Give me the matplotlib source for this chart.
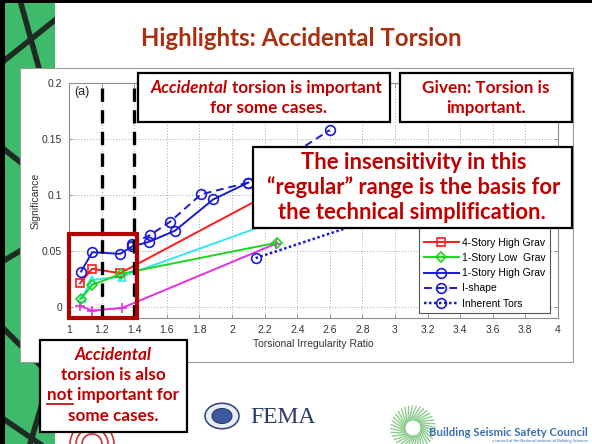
import matplotlib
matplotlib.use("Agg")
import matplotlib.pyplot as plt
import numpy as np
from matplotlib.patches import Rectangle, Circle, Arc
from matplotlib.lines import Line2D

# ---------------- data ----------------
x_4s_high = [1.067, 1.143, 1.313, 2.28]
y_4s_high = [0.021, 0.034, 0.030, 0.105]

x_cyan = [1.078, 1.139, 1.323, 2.28]
y_cyan = [0.0078, 0.024, 0.027, 0.077]

x_1s_low = [1.074, 1.143, 1.319, 2.278]
y_1s_low = [0.007, 0.0196, 0.0295, 0.0574]

x_magenta = [1.067, 1.139, 1.323, 2.27]
y_magenta = [0.0009, -0.0033, -0.0012, 0.0565]

x_1s_high = [1.074, 1.143, 1.313, 1.388, 1.49, 1.65, 1.885, 2.10]
y_1s_high = [0.0315, 0.0488, 0.0473, 0.054, 0.058, 0.068, 0.096, 0.111]

x_ishape = [1.385, 1.497, 1.62, 1.81, 2.10, 2.60]
y_ishape = [0.0565, 0.064, 0.076, 0.1005, 0.111, 0.158]

x_inherent = [2.145, 2.9]
y_inherent = [0.0435, 0.080]

vlines_x = [1.2, 1.4]

xticks = [1, 1.2, 1.4, 1.6, 1.8, 2, 2.2, 2.4, 2.6, 2.8, 3, 3.2, 3.4, 3.6, 3.8, 4]
xtick_labels = ["1", "1.2", "1.4", "1.6", "1.8", "2", "2.2", "2.4", "2.6", "2.8",
                "3", "3.2", "3.4", "3.6", "3.8", "4"]
yticks = [0, 0.05, 0.1, 0.15, 0.2]
ytick_labels = ["0", "0.05", "0.1", "0.15", "0.2"]

title = "Highlights: Accidental Torsion"

# ---------------- figure ----------------
W, H = 592, 444
fig = plt.figure(figsize=(W / 100, H / 100), dpi=100)
fig.patch.set_facecolor("white")


def fx(x):
    return x / W


def fy(y):
    return 1 - y / H


def rect(x0, y0, x1, y1, **kw):
    r = Rectangle((fx(x0), fy(y1)), fx(x1) - fx(x0), fy(y0) - fy(y1),
                  transform=fig.transFigure, **kw)
    fig.patches.append(r)
    return r


# left decorative strip
strip = rect(5, 0, 55, 444, facecolor="#3DBA6A", edgecolor="none", zorder=0.1)
for (xa, ya, xb, yb) in [(5, 60, 55, 20), (5, 150, 55, 190), (20, 0, 45, 90),
                         (5, 260, 55, 230), (5, 330, 55, 380), (30, 444, 55, 360),
                         (5, 420, 40, 444), (40, 230, 55, 320)]:
    ln = Line2D([fx(xa), fx(xb)], [fy(ya), fy(yb)], transform=fig.transFigure,
                color="#1E2A22", lw=4, zorder=0.2)
    ln.set_clip_path(strip)
    fig.lines.append(ln)
rect(0, 0, 5, 444, facecolor="black", edgecolor="none", zorder=0.3)
rect(0, 0, 592, 3, facecolor="black", edgecolor="none", zorder=0.3)

# matlab figure region
rect(20, 68, 573, 362, facecolor="white", edgecolor="#9A9A9A", lw=0.8, zorder=0.5)

# title
fig.text(fx(301), fy(38), title, fontsize=17.3, fontweight="bold", family="Lato",
         color="#A8300F", ha="center", va="center")

# ---------------- axes ----------------
ax = fig.add_axes([fx(69), fy(318), fx(558) - fx(69), fy(83) - fy(318)])
ax.set_zorder(1)
ax.set_xlim(1, 4)
ax.set_ylim(-0.01, 0.2)

lw = 1.4
ms = 6
ax.plot(x_cyan, y_cyan, color="#30E8F0", lw=lw, marker="^", ms=ms,
        mfc="none", mew=1.2, zorder=3)
ax.plot(x_magenta, y_magenta, color="#E62EE6", lw=lw, marker="+", ms=ms + 1,
        mew=1.2, zorder=3)
# two blank legend rows (hidden under the annotation box in the reference)
ax.plot([], [], color="none", label=" ")
ax.plot([], [], color="none", label="  ")
ax.plot(x_4s_high, y_4s_high, color="#FF1A1A", lw=lw, marker="s", ms=ms,
        mfc="none", mew=1.2, label="4-Story High Grav", zorder=3)
ax.plot(x_1s_low, y_1s_low, color="#1ED61E", lw=lw, marker="D", ms=ms - 1,
        mfc="none", mew=1.2, label="1-Story Low  Grav", zorder=3)
ax.plot(x_1s_high, y_1s_high, color="#1A1AD6", lw=lw, marker="o", ms=ms + 1,
        mfc="none", mew=1.2, label="1-Story High Grav", zorder=3)
ax.plot(x_ishape, y_ishape, color="#1A1AD6", lw=lw, ls=(0, (4, 2.5)), marker="o",
        ms=ms + 1, mfc="none", mew=1.2, label="I-shape", zorder=3)
ax.plot(x_inherent, y_inherent, color="#1A1AD6", lw=lw + 0.4, ls=(0, (1, 1)),
        marker="o", ms=ms + 1, mfc="none", mew=1.2, label="Inherent Tors", zorder=3)

for xv in vlines_x:
    ax.axvline(xv, color="black", lw=2.4, ls=(0, (4, 2.5)), zorder=4)

ax.set_xticks(xticks)
ax.set_xticklabels(xtick_labels)
ax.set_yticks(yticks)
ax.set_yticklabels(ytick_labels)
ax.grid(True, ls=(0, (1, 2)), color="#A8A8A8", lw=0.7)
ax.set_axisbelow(True)
for s in ax.spines.values():
    s.set_color("#8C8C8C")
    s.set_linewidth(0.8)
ax.tick_params(direction="in", length=3, width=0.6, colors="#8C8C8C",
               labelcolor="#333333", labelsize=7.5, top=True, right=True, pad=5)
for lab in ax.get_xticklabels() + ax.get_yticklabels():
    lab.set_family("Liberation Sans")
ax.set_xlabel("Torsional Irregularity Ratio", fontsize=7.5, family="Liberation Sans",
              color="#333333", labelpad=3)
ax.set_ylabel("Significance", fontsize=7.5, family="Liberation Sans",
              color="#333333", labelpad=1)
ax.text(1.03, 0.192, "(a)", fontsize=9, family="Liberation Sans", color="#222222",
        ha="left", va="center")

leg = ax.legend(loc="lower right", bbox_to_anchor=(0.994, 0.0),
                prop={"family": "Liberation Sans", "size": 7.5},
                handlelength=3.4, handletextpad=0.3, labelspacing=0.5,
                fancybox=False, framealpha=1, edgecolor="#555555",
                borderpad=0.4)
leg.get_frame().set_linewidth(0.8)
leg.set_zorder(5)

# ---------------- annotation boxes ----------------
RED = "#C00000"
renderer = fig.canvas.get_renderer()


def rich_line(parts, xc, y, size):
    texts, widths = [], []
    for s, kw in parts:
        t = fig.text(0, 0, s, fontsize=size, color=RED, family="Lato",
                     fontweight="bold", va="center", ha="left", zorder=12, **kw)
        widths.append(t.get_window_extent(renderer=renderer).width)
        texts.append(t)
    space = size * 100 / 72 * 0.25
    total = sum(widths) + space * (len(parts) - 1)
    x = xc - total / 2
    out = []
    for t, w in zip(texts, widths):
        t.set_position((fx(x), fy(y)))
        out.append((x, w))
        x += w + space
    return out


def box(x0, y0, x1, y1):
    rect(x0, y0, x1, y1, facecolor="white", edgecolor="black", lw=1.6, zorder=10)


FS = 12.3
# box 1
box(138, 73, 390, 122)
rich_line([("Accidental", {"style": "italic"}), ("torsion is important", {})], 266, 88, FS)
rich_line([("for some cases.", {})], 268, 108, FS)

# box 2
box(400, 73, 572, 122)
rich_line([("Given: Torsion is", {})], 486, 88, FS)
rich_line([("important.", {})], 486, 108, FS)

# box 3
box(253, 147, 572, 228)
rich_line([("The insensitivity in this", {})], 414, 162, 15.8)
rich_line([("\u201cregular\u201d range is the basis for", {})], 414, 187, 15.8)
rich_line([("the technical simplification.", {})], 412, 212, 15.8)

# box 4
box(40, 340, 187, 432)
rich_line([("Accidental", {"style": "italic"})], 113, 355, FS)
rich_line([("torsion is also", {})], 113, 375, FS)
pos = rich_line([("not", {}), ("important for", {})], 113, 395, FS)
xn, wn = pos[0]
fig.lines.append(Line2D([fx(xn), fx(xn + wn)], [fy(404), fy(404)],
                        transform=fig.transFigure, color=RED, lw=1.2, zorder=12))
rich_line([("some cases.", {})], 113, 416, FS)

# red highlight rectangle
rect(69, 234, 137, 318, facecolor="none", edgecolor="#B00000", lw=3, zorder=11)

# ---------------- logos ----------------
# partial red logo bottom-left
for r in [10, 16, 22]:
    a = Arc((fx(92), fy(444)), 2 * r / W, 2 * r / H, theta1=0, theta2=180,
            transform=fig.transFigure, color="#D03030", lw=1.2, zorder=2)
    fig.patches.append(a)

# FEMA seal + text
seal_c = (fx(222), fy(416))
fig.patches.append(Circle(seal_c, 17 / W, transform=fig.transFigure,
                          facecolor="#E8ECF4", edgecolor="#3A4C7A", lw=1.2, zorder=2))
fig.patches.append(Circle(seal_c, 10 / W, transform=fig.transFigure,
                          facecolor="#3B5AA0", edgecolor="#2A3A6A", lw=0.8, zorder=2))
fig.text(fx(250), fy(417), "FEMA", fontsize=17, family="Liberation Serif",
         color="#2A3A6E", ha="left", va="center")

# BSSC swirl + text
cx, cy = 413, 428
for ang in np.linspace(0, 2 * np.pi, 36, endpoint=False):
    r0, r1 = 8, 22
    xs = [cx + r0 * np.cos(ang), cx + r1 * np.cos(ang + 0.5)]
    ys = [cy + r0 * np.sin(ang), cy + r1 * np.sin(ang + 0.5)]
    fig.lines.append(Line2D([fx(v) for v in xs], [fy(v) for v in ys],
                            transform=fig.transFigure, color="#8CCB8C", lw=1.0, zorder=2))
fig.text(fx(588), fy(432), "Building Seismic Safety Council", fontsize=8.2,
         family="Lato", fontweight="bold", color="#3C6EB0", ha="right", va="center", zorder=3)
fig.text(fx(588), fy(441), "a council of the National Institute of Building Sciences",
         fontsize=3, family="Lato", color="#3C6EB0", ha="right", va="center", zorder=3)

fig.savefig("out.png", dpi=100)
